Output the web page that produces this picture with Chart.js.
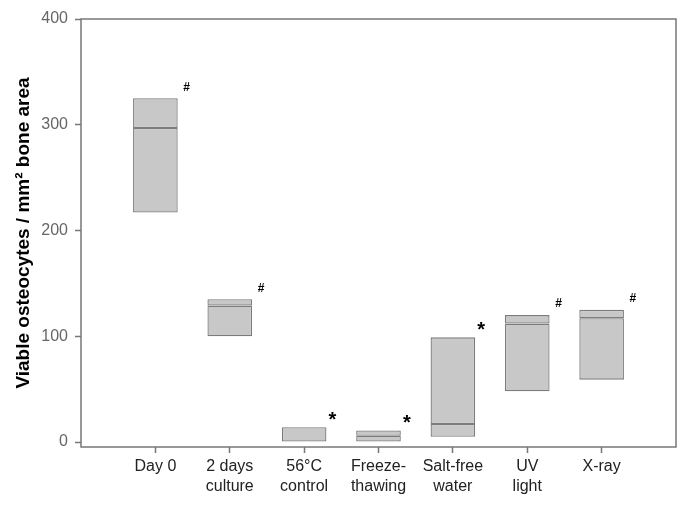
<!DOCTYPE html>
<html>
<head>
<meta charset="utf-8">
<script src="https://cdn.jsdelivr.net/npm/chart.js@4.4.1/dist/chart.umd.min.js"></script>
<style>
  html, body { margin: 0; padding: 0; background: #fff; }
  #wrap { width: 685px; height: 513px; }
</style>
</head>
<body>
<div id="wrap"><canvas id="boxChart"></canvas></div>
<script>
// categories (blank slots at both ends keep the outer padding of the plot)
const categories = ['', 'Day 0', ['2 days', 'culture'], ['56\u00b0C', 'control'], ['Freeze-', 'thawing'], ['Salt-free', 'water'], ['UV', 'light'], 'X-ray', ''];
const minValues    = [null, 217, 100, 0, 0, 5, 48, 59, null];
const medianValues = [null, 297, 129, 0, 6, 17, 112, 117, null];
const maxValues    = [null, 325, 135, 14, 11, 99, 120, 125, null];
const markers      = ['', '#', '#', '*', '*', '*', '#', '#', ''];
const yTicks = [0, 100, 200, 300, 400];

const lowerBox = minValues.map((v, i) => v === null ? null : [v, medianValues[i]]);
const upperBox = maxValues.map((v, i) => v === null ? null : [medianValues[i], v]);

const boxFill = '#c8c8c8';
const boxLine = '#7c7c7c';
const axisGray = '#777';

// frame around the plot area
const framePlugin = {
  id: 'frame',
  afterDraw(chart) {
    const { ctx, chartArea: a } = chart;
    ctx.save();
    ctx.strokeStyle = axisGray;
    ctx.lineWidth = 1.5;
    ctx.strokeRect(a.left, a.top, a.right - a.left, a.bottom - a.top);
    ctx.restore();
  }
};

// significance marks next to each box
const markerPlugin = {
  id: 'markers',
  afterDatasetsDraw(chart) {
    const { ctx } = chart;
    const bars = chart.getDatasetMeta(1).data;
    ctx.save();
    ctx.fillStyle = '#000';
    ctx.textAlign = 'center';
    ctx.textBaseline = 'middle';
    bars.forEach((bar, i) => {
      const m = markers[i];
      if (!m || maxValues[i] === null) return;
      const right = bar.x + bar.width / 2;
      if (m === '*') {
        ctx.font = 'bold 20px "Liberation Sans", Arial, sans-serif';
        ctx.fillText(m, right + 6, bar.y - 7);
      } else {
        ctx.font = 'bold 12px "Liberation Sans", Arial, sans-serif';
        ctx.fillText(m, right + 9, bar.y - 11);
      }
    });
    ctx.restore();
  }
};

const ctx = document.getElementById('boxChart').getContext('2d');
const boxChart = new Chart(ctx, {
  type: 'bar',
  data: {
    labels: categories,
    datasets: [
      {
        data: lowerBox,
        backgroundColor: boxFill,
        borderColor: boxLine,
        borderWidth: 1.3,
        borderSkipped: false,
        grouped: false,
        barPercentage: 0.6,
        categoryPercentage: 1
      },
      {
        data: upperBox,
        backgroundColor: boxFill,
        borderColor: boxLine,
        borderWidth: 1.3,
        borderSkipped: false,
        grouped: false,
        barPercentage: 0.6,
        categoryPercentage: 1
      }
    ]
  },
  options: {
    responsive: true,
    maintainAspectRatio: false,
    animation: false,
    layout: { padding: { left: 0, top: 19, right: 9, bottom: 0 } },
    plugins: {
      legend: { display: false },
      tooltip: { enabled: false }
    },
    scales: {
      x: {
        offset: false,
        grid: {
          display: true,
          offset: false,
          drawOnChartArea: false,
          drawTicks: true,
          tickLength: 6,
          tickColor: (c) => (categories[c.index] ? axisGray : 'rgba(0,0,0,0)'),
          tickWidth: 1.5
        },
        border: { display: false },
        ticks: {
          color: '#222',
          padding: 4,
          maxRotation: 0,
          autoSkip: false,
          font: { family: '"Liberation Sans", Arial, sans-serif', size: 16, lineHeight: 1.25 }
        },
        afterFit(scale) { scale.height = 66; }
      },
      y: {
        min: -4.7,
        max: 400,
        afterBuildTicks(scale) { scale.ticks = yTicks.map(v => ({ value: v })); },
        grid: {
          display: true,
          drawOnChartArea: false,
          tickLength: 6,
          tickColor: axisGray,
          tickWidth: 1.5
        },
        border: { display: false },
        ticks: {
          color: '#666',
          padding: 7,
          font: { family: '"Liberation Sans", Arial, sans-serif', size: 16 }
        },
        title: {
          display: true,
          text: 'Viable osteocytes / mm\u00b2 bone area',
          color: '#000',
          padding: { top: 12, bottom: 0 },
          font: { family: '"Liberation Sans", Arial, sans-serif', size: 19, weight: 'bold', lineHeight: 1.2 }
        },
        afterFit(scale) { scale.width = 81; }
      }
    }
  },
  plugins: [framePlugin, markerPlugin]
});
</script>
</body>
</html>
